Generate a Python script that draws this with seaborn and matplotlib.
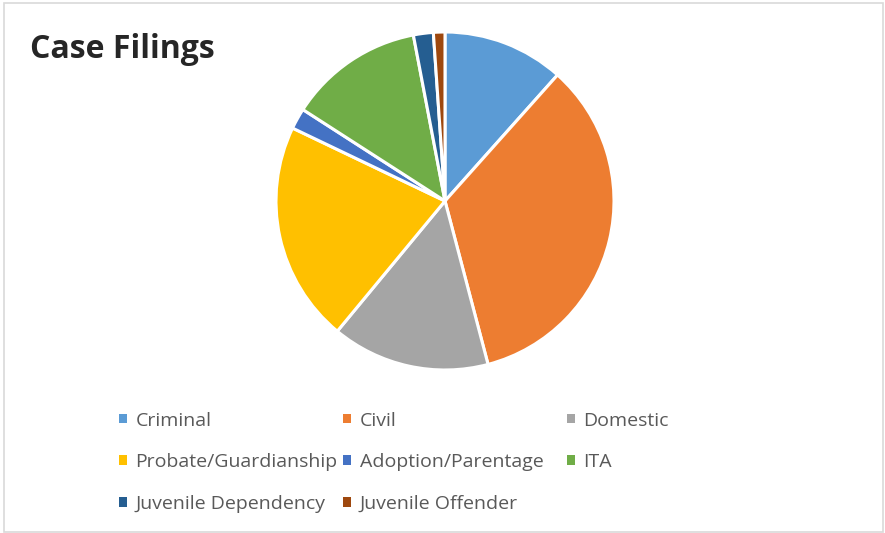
import matplotlib
matplotlib.use("Agg")
import matplotlib.pyplot as plt
from matplotlib.patches import Patch, Rectangle
import seaborn as sns

categories = ["Criminal", "Civil", "Domestic", "Probate/Guardianship",
              "Adoption/Parentage", "ITA", "Juvenile Dependency", "Juvenile Offender"]
shares = [11.6, 34.3, 15.1, 21.1, 2.0, 12.9, 1.9, 1.1]
colors = ["#5B9BD5", "#ED7D31", "#A5A5A5", "#FFC000",
          "#4472C4", "#70AD47", "#255E91", "#9E480E"]
title = "Case Filings"

sns.set_theme(style="white")
plt.rcParams["font.family"] = ["Open Sans", "DejaVu Sans"]
palette = sns.color_palette(colors)

W, H = 885, 533
fig = plt.figure(figsize=(W / 100, H / 100), dpi=100)

# chart frame
fig.patches.append(Rectangle((4 / W, 1.5 / H), (W - 6) / W, (H - 4.5) / H,
                             transform=fig.transFigure, fill=False,
                             edgecolor="#D9D9D9", linewidth=1.2))

cx, cy, r = 445, 201, 169
ax = fig.add_axes([(cx - r) / W, (H - cy - r) / H, 2 * r / W, 2 * r / H])
ax.pie(shares, colors=palette, startangle=90, counterclock=False,
       wedgeprops=dict(edgecolor="white", linewidth=2.2))
ax.set_xlim(-1.0, 1.0)
ax.set_ylim(-1.0, 1.0)
ax.set_aspect("equal")
ax.axis("off")

fig.text(30 / W, 1 - 58 / H, title, fontsize=23, fontweight="bold",
         color="#262626", va="baseline", ha="left")

handles = [Patch(facecolor=palette[i], edgecolor="none", label=categories[i])
           for i in range(len(categories))]
columns = [[0, 3, 6], [1, 4, 7], [2, 5]]
col_x = [119, 343, 567]
for idxs, x in zip(columns, col_x):
    leg = fig.legend([handles[i] for i in idxs], [categories[i] for i in idxs],
                     loc="upper left", bbox_to_anchor=(x / W, 1 - 411.5 / H),
                     frameon=False, fontsize=14, handlelength=0.4, handleheight=0.4,
                     handletextpad=0.45, labelspacing=1.22,
                     borderaxespad=0, borderpad=0)
    for t in leg.get_texts():
        t.set_color("#595959")

fig.savefig("out.png", dpi=100)
